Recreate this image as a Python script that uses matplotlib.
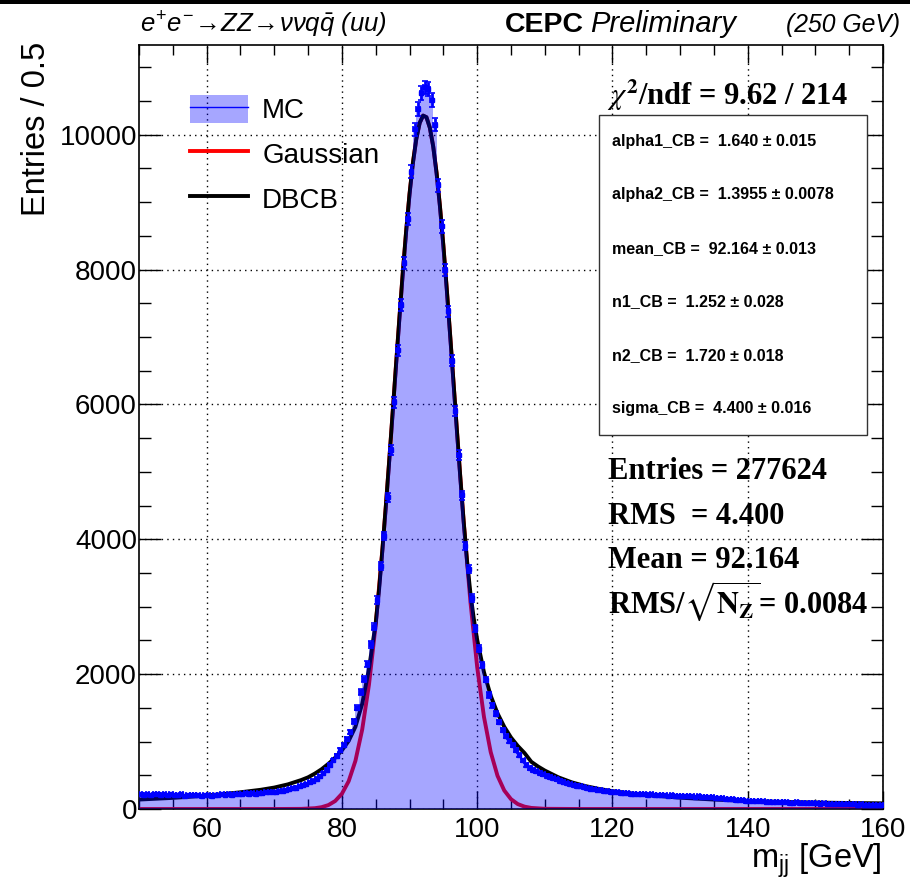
import numpy as np
import matplotlib
matplotlib.use('Agg')
import matplotlib.pyplot as plt
from matplotlib.patches import Patch, Rectangle
from matplotlib.lines import Line2D

plt.rcParams['font.family'] = ['Liberation Sans', 'DejaVu Sans']
plt.rcParams['mathtext.fontset'] = 'custom'
plt.rcParams['mathtext.rm'] = 'Liberation Sans'
plt.rcParams['mathtext.it'] = 'Liberation Sans:italic'
plt.rcParams['mathtext.bf'] = 'Liberation Sans:bold'

# ---- data ----
x_lo, x_hi = 50, 160
bin_edges = np.linspace(x_lo, x_hi, 221)      # 0.5 GeV bins
# MC entries per bin, 50.25 ... 159.75
mc_counts = [
    228, 214, 221, 209, 224, 218, 206, 219, 212, 223,   # 50-55
    210, 204, 216, 199, 208, 213, 201, 207, 196, 211,   # 55-60
    205, 199, 212, 203, 217, 208, 221, 214, 226, 219,   # 60-65
    224, 231, 227, 236, 229, 241, 238, 247, 252, 246,   # 65-70
    256, 263, 274, 281, 293, 305, 318, 334, 352, 371,   # 70-75
    396, 421, 452, 487, 529, 580, 650, 720, 790, 870,   # 75-80
    950, 1035, 1140, 1300, 1500, 1735, 1930, 2150, 2440, 2700,   # 80-85
    3100, 3600, 4050, 4620, 5320, 6030, 6800, 7470, 8100, 8750,  # 85-90
    9450, 10080, 10380, 10620, 10700, 10680, 10520, 10150, 9250, 8640,  # 90-95
    8000, 7380, 6650, 5900, 5250, 4650, 3900, 3560, 3130, 2680,  # 95-100
    2380, 2130, 1920, 1690, 1540, 1410, 1290, 1170, 1080, 1005,  # 100-105
    945, 870, 800, 720, 650, 610, 585, 560, 535, 512,   # 105-110
    496, 478, 455, 441, 422, 405, 388, 372, 356, 347,   # 110-115
    336, 322, 314, 303, 296, 287, 279, 271, 266, 258,   # 115-120
    252, 247, 240, 238, 231, 229, 226, 221, 224, 216,   # 120-125
    213, 218, 209, 206, 211, 203, 199, 204, 197, 200,   # 125-130
    194, 198, 189, 192, 184, 187, 180, 176, 178, 171,   # 130-135
    166, 162, 158, 153, 150, 143, 139, 134, 130, 126,   # 135-140
    122, 119, 116, 113, 115, 110, 108, 104, 106, 101,   # 140-145
    99, 102, 96, 94, 97, 91, 89, 92, 87, 85,            # 145-150
    84, 81, 83, 78, 79, 76, 74, 77, 72, 70,             # 150-155
    71, 68, 66, 67, 63, 64, 61, 59, 60, 56,             # 155-160
]

# Gaussian fit curve
gaus_x = [50, 70, 74, 76, 77, 78, 79, 80, 81, 82, 83, 84, 85, 86, 86.5, 87, 87.5,
          88, 88.5, 89, 89.5, 90, 90.5, 91, 91.5, 92, 92.5, 93, 93.5, 94, 94.5,
          95, 95.5, 96, 96.5, 97, 97.5, 98, 99, 100, 101, 102, 103, 104, 105,
          106, 107, 108, 110, 115, 160]
gaus_y = [0, 0, 2, 12, 27, 58, 118, 226, 412, 715, 1178, 1843, 2737, 3862, 4499, 5173, 5874,
          6582, 7280, 7951, 8572, 9122, 9583, 9938, 10175, 10283, 10259, 10104, 9824, 9429, 8933,
          8356, 7715, 7031, 6326, 5618, 4927, 4265, 3074, 2104, 1368, 844, 494, 275, 146,
          73, 35, 16, 3, 0, 0]

# double-sided Crystal Ball fit curve
dbcb_x = [50, 52, 55, 58, 60, 62, 65, 68, 70, 72, 74, 75, 76, 77, 78, 79, 80, 81, 82, 83,
          84, 85, 85.5, 86, 86.5, 87, 87.5, 88, 88.5, 89, 89.5, 90, 90.5, 91, 91.5, 92,
          92.5, 93, 93.5, 94, 94.5, 95, 95.5, 96, 96.5, 97, 97.5, 98, 98.5, 99, 99.5, 100,
          101, 102, 103, 104, 105, 106, 107, 108, 109, 110, 112, 114, 116, 118, 120, 123,
          126, 130, 135, 140, 145, 150, 155, 160]
dbcb_y = [140, 150, 165, 185, 200, 217, 248, 285, 318, 365, 430, 470, 525, 590, 670, 760, 870, 1010, 1220, 1560,
          2080, 2760, 3260, 3862, 4499, 5173, 5874, 6582, 7280, 7951, 8572, 9122, 9583, 9938, 10175, 10283,
          10259, 10104, 9824, 9429, 8933, 8356, 7715, 7031, 6326, 5618, 4927, 4265, 3680, 3200, 2820, 2510,
          2030, 1680, 1420, 1220, 1060, 935, 830, 700, 630, 570, 470, 395, 340, 298, 265, 228,
          200, 168, 140, 120, 105, 96, 89, 84]

fit_pars = [
    'alpha1_CB =  1.640 ± 0.015',
    'alpha2_CB =  1.3955 ± 0.0078',
    'mean_CB =  92.164 ± 0.013',
    'n1_CB =  1.252 ± 0.028',
    'n2_CB =  1.720 ± 0.018',
    'sigma_CB =  4.400 ± 0.016',
]
stats = [
    'Entries = 277624',
    'RMS  = 4.400',
    'Mean = 92.164',
    r'RMS/$\sqrt{\mathbf{N}_{\mathbf{Z}}}$= 0.0084',
]

W, H = 910, 883
fig = plt.figure(figsize=(W / 100, H / 100), dpi=100)
ax = fig.add_axes([139 / W, (H - 809) / H, 744 / W, 764 / H])

mc_counts = np.array(mc_counts, dtype=float)
centers = 0.5 * (bin_edges[1:] + bin_edges[:-1])

ax.plot(gaus_x, gaus_y, color='red', lw=2.8, zorder=2)
ax.plot(dbcb_x, dbcb_y, color='black', lw=2.8, zorder=2.5)
ax.stairs(mc_counts, bin_edges, fill=True, color='blue', alpha=0.35, lw=0, zorder=3)
ax.errorbar(centers, mc_counts, xerr=0.25, yerr=np.sqrt(mc_counts), fmt='s', ms=2.5,
            color='blue', elinewidth=2, capsize=2, capthick=1.2, zorder=4)

ax.set_xlim(x_lo, x_hi)
ax.set_ylim(0, 11330)
ax.set_xticks(np.arange(60, 161, 20))
ax.set_xticks(np.arange(50, 161, 5), minor=True)
ax.set_yticks(np.arange(0, 10001, 2000))
ax.set_yticks(np.arange(0, 11301, 500), minor=True)
ax.grid(True, which='major', ls=(0, (1, 3)), color='black', lw=1)
ax.tick_params(which='both', direction='in', top=True, right=True, labelsize=20, width=1)
ax.tick_params(axis='x', which='major', length=13, pad=6)
ax.tick_params(axis='x', which='minor', length=7)
ax.tick_params(axis='y', which='major', length=16, pad=1.5)
ax.tick_params(axis='y', which='minor', length=8.5)
for s in ax.spines.values():
    s.set_linewidth(1.2)

fig.text(37 / W, 1 - 42 / H, 'Entries / 0.5', rotation=90, ha='center', va='top',
         fontsize=23.5)
fig.text(882 / W, 1 - 868 / H, r'm$_{\mathrm{jj}}$ [GeV]', ha='right', va='baseline',
         fontsize=23.5)

# header
fig.text(140 / W, 1 - 32 / H, r'$e^{+}e^{-}\!\rightarrow\!ZZ\!\rightarrow\!\nu\nu q\bar{q}$ (uu)',
         ha='left', va='baseline', fontsize=18.5, style='italic')
fig.text(505 / W, 1 - 32 / H, 'CEPC', ha='left', va='baseline', fontsize=20.5, weight='bold')
fig.text(590 / W, 1 - 32 / H, 'Preliminary', ha='left', va='baseline', fontsize=21,
         style='italic')
fig.text(900 / W, 1 - 32 / H, '(250 GeV)', ha='right', va='baseline', fontsize=17.8,
         style='italic')
fig.add_artist(Rectangle((0, 1 - 4 / H), 1, 4 / H, transform=fig.transFigure,
                         color='black', lw=0))

# legend
mc_handle = (Patch(facecolor='blue', alpha=0.35, lw=0), Line2D([], [], color='blue', lw=1))
ax.legend([mc_handle, Line2D([], [], color='red', lw=2.8), Line2D([], [], color='black', lw=2.8)],
          ['MC', 'Gaussian', 'DBCB'], loc='upper left',
          bbox_to_anchor=(51 / 744, (809 - 95) / 764), frameon=False, fontsize=20,
          handlelength=2.1, handleheight=1.15, labelspacing=0.56, handletextpad=0.5,
          borderpad=0, borderaxespad=0)

# fit box
fig.text(607 / W, 1 - 105 / H, r'$\chi^{\mathbf{2}}$/ndf = 9.62 / 214', ha='left', va='baseline',
         fontsize=22, weight='bold', family='Liberation Serif', math_fontfamily='stix')
fig.add_artist(Rectangle((599 / W, 1 - 435 / H), 268 / W, 320 / H, transform=fig.transFigure,
                         facecolor='white', edgecolor='#333333', lw=1, zorder=5))
for i, txt in enumerate(fit_pars):
    yb = 146 + i * 53.5
    fig.text(612 / W, 1 - yb / H, txt, ha='left', va='baseline', fontsize=11.5,
             weight='bold', zorder=6)
for i, txt in enumerate(stats):
    yb = 479 + i * 44.7
    fig.text(608 / W, 1 - yb / H, txt, ha='left', va='baseline', fontsize=22,
             weight='bold', family='Liberation Serif', math_fontfamily='stix')

fig.savefig('out.png', dpi=100)
